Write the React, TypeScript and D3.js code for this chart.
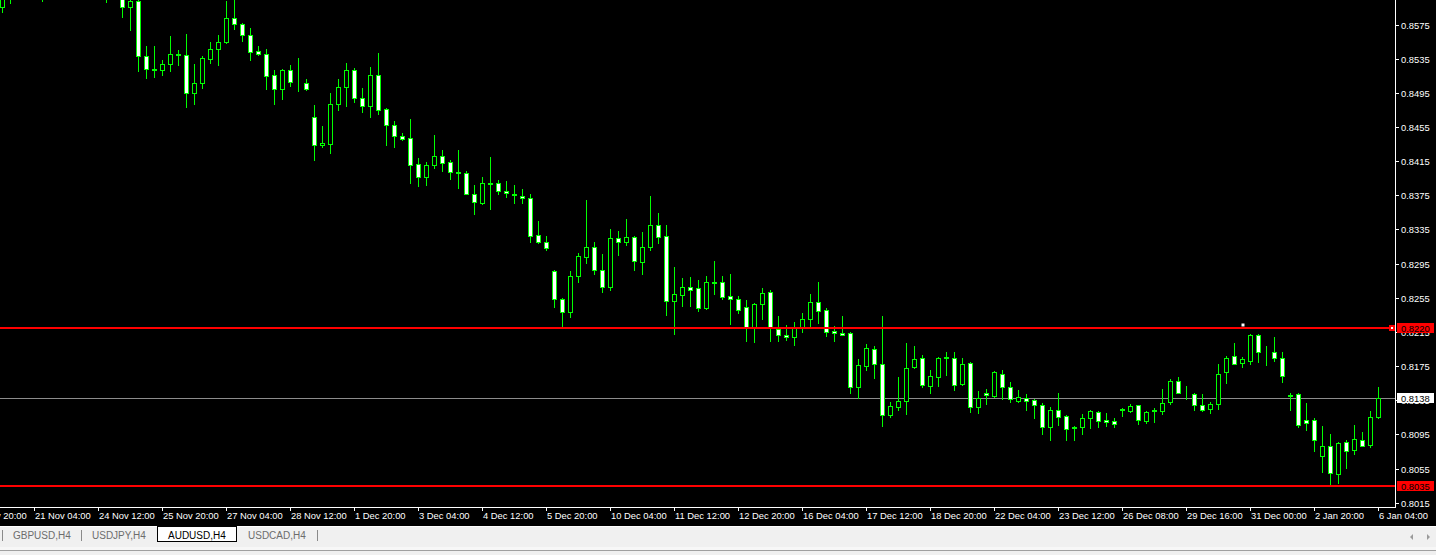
import React from 'react';
import * as d3 from 'd3';

// AUDUSD H4 candles (index 0 = leftmost visible bar)
const opens = [
  0.8596,0.8612,0.8620,0.8626,0.8634,0.8618,0.8610,0.8624,0.8634,0.8630,
  0.8616,0.8628,0.8618,0.8612,0.8608,0.8618,0.8596,0.8603,0.8538,0.8523,
  0.8522,0.8529,0.8540,0.8539,0.8495,0.8507,0.8535,0.8546,0.8554,0.8583,
  0.8576,0.8563,0.8544,0.8541,0.8516,0.8499,0.8522,0.8507,0.8506,0.8467,
  0.8434,0.8435,0.8482,0.8502,0.8522,0.8489,0.8480,0.8516,0.8476,0.8457,
  0.8444,0.8442,0.8412,0.8397,0.8410,0.8421,0.8414,0.8402,0.8401,0.8377,
  0.8366,0.8389,0.8389,0.8380,0.8377,0.8374,0.8372,0.8328,0.8320,0.8286,
  0.8254,0.8238,0.8280,0.8303,0.8315,0.8288,0.8268,0.8325,0.8320,0.8326,
  0.8297,0.8315,0.8340,0.8327,0.8251,0.8258,0.8268,0.8266,0.8243,0.8273,
  0.8273,0.8257,0.8254,0.8244,0.8220,0.8248,0.8262,0.8219,0.8212,0.8209,
  0.8221,0.8230,0.8250,0.8241,0.8216,0.8214,0.8214,0.8150,0.8175,0.8195,
  0.8178,0.8118,0.8127,0.8134,0.8174,0.8184,0.8152,0.8162,0.8186,0.8185,
  0.8154,0.8179,0.8127,0.8144,0.8140,0.8166,0.8151,0.8134,0.8138,0.8135,
  0.8129,0.8104,0.8124,0.8117,0.8104,0.8104,0.8114,0.8121,0.8112,0.8111,
  0.8125,0.8123,0.8129,0.8111,0.8124,0.8123,0.8133,0.8158,0.8144,0.8142,
  0.8129,0.8125,0.8131,0.8168,0.8187,0.8179,0.8181,0.8211,0.8192,0.8192,
  0.8184,0.8141,0.8142,0.8112,0.8112,0.8070,0.8082,0.8049,0.8086,0.8077,
  0.8089,0.8083,0.8115,
];
const highs = [
  0.8616,0.8630,0.8632,0.8640,0.8642,0.8624,0.8628,0.8640,0.8648,0.8636,
  0.8632,0.8638,0.8626,0.8620,0.8622,0.8624,0.8612,0.8606,0.8550,0.8550,
  0.8534,0.8562,0.8545,0.8564,0.8529,0.8538,0.8554,0.8563,0.8602,0.8606,
  0.8577,0.8571,0.8550,0.8546,0.8522,0.8523,0.8527,0.8536,0.8511,0.8481,
  0.8456,0.8495,0.8511,0.8530,0.8524,0.8501,0.8525,0.8542,0.8477,0.8462,
  0.8448,0.8464,0.8419,0.8414,0.8446,0.8428,0.8416,0.8428,0.8404,0.8387,
  0.8396,0.8420,0.8393,0.8392,0.8387,0.8382,0.8377,0.8345,0.8327,0.8288,
  0.8255,0.8286,0.8307,0.8370,0.8320,0.8306,0.8336,0.8333,0.8347,0.8327,
  0.8332,0.8374,0.8354,0.8340,0.8291,0.8278,0.8279,0.8276,0.8280,0.8298,
  0.8280,0.8283,0.8257,0.8252,0.8249,0.8266,0.8264,0.8234,0.8223,0.8227,
  0.8237,0.8260,0.8273,0.8243,0.8222,0.8234,0.8215,0.8183,0.8201,0.8198,
  0.8234,0.8133,0.8162,0.8202,0.8198,0.8188,0.8171,0.8186,0.8191,0.8191,
  0.8185,0.8180,0.8146,0.8148,0.8169,0.8171,0.8157,0.8147,0.8142,0.8136,
  0.8132,0.8127,0.8143,0.8118,0.8105,0.8119,0.8124,0.8122,0.8120,0.8114,
  0.8126,0.8131,0.8130,0.8123,0.8126,0.8148,0.8160,0.8162,0.8152,0.8143,
  0.8142,0.8133,0.8177,0.8187,0.8202,0.8186,0.8213,0.8213,0.8198,0.8209,
  0.8192,0.8144,0.8144,0.8132,0.8114,0.8105,0.8096,0.8086,0.8088,0.8106,
  0.8098,0.8123,0.8150,
];
const lows = [
  0.8590,0.8600,0.8608,0.8615,0.8612,0.8603,0.8607,0.8618,0.8625,0.8612,
  0.8610,0.8614,0.8608,0.8601,0.8606,0.8584,0.8568,0.8521,0.8512,0.8514,
  0.8516,0.8521,0.8527,0.8478,0.8482,0.8501,0.8530,0.8528,0.8553,0.8570,
  0.8556,0.8534,0.8539,0.8500,0.8482,0.8488,0.8503,0.8497,0.8498,0.8416,
  0.8431,0.8425,0.8475,0.8479,0.8484,0.8472,0.8467,0.8470,0.8434,0.8431,
  0.8440,0.8390,0.8386,0.8387,0.8407,0.8403,0.8394,0.8383,0.8376,0.8353,
  0.8365,0.8359,0.8376,0.8373,0.8366,0.8366,0.8320,0.8319,0.8311,0.8244,
  0.8222,0.8232,0.8273,0.8296,0.8283,0.8262,0.8264,0.8305,0.8317,0.8287,
  0.8283,0.8311,0.8319,0.8235,0.8213,0.8246,0.8246,0.8239,0.8242,0.8260,
  0.8254,0.8224,0.8237,0.8205,0.8203,0.8230,0.8204,0.8205,0.8206,0.8200,
  0.8215,0.8222,0.8226,0.8210,0.8205,0.8211,0.8144,0.8138,0.8170,0.8161,
  0.8105,0.8115,0.8124,0.8119,0.8173,0.8151,0.8144,0.8152,0.8165,0.8147,
  0.8153,0.8121,0.8120,0.8131,0.8139,0.8136,0.8133,0.8133,0.8124,0.8114,
  0.8096,0.8088,0.8106,0.8088,0.8088,0.8096,0.8102,0.8104,0.8105,0.8104,
  0.8117,0.8121,0.8107,0.8108,0.8110,0.8119,0.8131,0.8143,0.8137,0.8124,
  0.8123,0.8120,0.8125,0.8155,0.8177,0.8174,0.8178,0.8180,0.8176,0.8181,
  0.8157,0.8124,0.8104,0.8100,0.8076,0.8051,0.8035,0.8038,0.8056,0.8072,
  0.8081,0.8080,0.8114,
];
const closes = [
  0.8610,0.8620,0.8626,0.8634,0.8618,0.8610,0.8624,0.8634,0.8630,0.8616,
  0.8628,0.8618,0.8612,0.8608,0.8618,0.8596,0.8603,0.8538,0.8523,0.8522,
  0.8529,0.8540,0.8539,0.8495,0.8506,0.8536,0.8546,0.8554,0.8583,0.8576,
  0.8563,0.8543,0.8540,0.8515,0.8499,0.8522,0.8508,0.8506,0.8499,0.8434,
  0.8436,0.8482,0.8502,0.8522,0.8489,0.8480,0.8516,0.8475,0.8457,0.8444,
  0.8441,0.8411,0.8397,0.8410,0.8421,0.8413,0.8402,0.8401,0.8377,0.8367,
  0.8389,0.8388,0.8380,0.8378,0.8375,0.8372,0.8327,0.8320,0.8313,0.8254,
  0.8238,0.8280,0.8304,0.8315,0.8288,0.8268,0.8325,0.8320,0.8326,0.8298,
  0.8315,0.8340,0.8326,0.8251,0.8259,0.8268,0.8264,0.8243,0.8273,0.8272,
  0.8256,0.8254,0.8241,0.8220,0.8248,0.8261,0.8220,0.8212,0.8209,0.8221,
  0.8230,0.8250,0.8240,0.8215,0.8214,0.8212,0.8150,0.8176,0.8196,0.8178,
  0.8118,0.8128,0.8134,0.8173,0.8183,0.8153,0.8164,0.8184,0.8185,0.8153,
  0.8178,0.8127,0.8138,0.8141,0.8168,0.8151,0.8136,0.8139,0.8134,0.8130,
  0.8104,0.8124,0.8115,0.8101,0.8103,0.8114,0.8122,0.8111,0.8110,0.8107,
  0.8124,0.8128,0.8112,0.8121,0.8123,0.8132,0.8158,0.8144,0.8143,0.8130,
  0.8124,0.8131,0.8166,0.8185,0.8178,0.8183,0.8212,0.8192,0.8191,0.8185,
  0.8164,0.8140,0.8106,0.8108,0.8089,0.8081,0.8050,0.8085,0.8076,0.8090,
  0.8082,0.8115,0.8138,
];

const priceTicks = [0.8575,0.8535,0.8495,0.8455,0.8415,0.8375,0.8335,0.8295,0.8255,0.8215,0.8175,0.8135,0.8095,0.8055,0.8015];
const timeTickIndex = [-4,4,12,20,28,36,44,52,60,68,76,84,92,100,108,116,124,132,140,148,156,164,172];
const timeTickLabels = [
  '20 Nov 20:00','21 Nov 04:00','24 Nov 12:00','25 Nov 20:00','27 Nov 04:00','28 Nov 12:00',
  '1 Dec 20:00','3 Dec 04:00','4 Dec 12:00','5 Dec 20:00','10 Dec 04:00','11 Dec 12:00',
  '12 Dec 20:00','16 Dec 04:00','17 Dec 12:00','18 Dec 20:00','22 Dec 04:00','23 Dec 12:00',
  '26 Dec 08:00','29 Dec 16:00','31 Dec 00:00','2 Jan 20:00','6 Jan 04:00',
];
const levelLines = [0.8220, 0.8035];
const bidPrice = 0.8138;
const markerBar = 155;
const markerPrice = 0.8223;
const tabs = ['GBPUSD,H4','USDJPY,H4','AUDUSD,H4','USDCAD,H4'];
const activeTab = 'AUDUSD,H4';

const FONT = "Tahoma, 'Liberation Sans', Arial, sans-serif";
const GREEN = '#00ff00';

export default function App() {
  const W = 1436, H = 555;
  const axisX = 1395;
  const axisY = 507;
  const x = d3.scaleLinear().domain([0, 172]).range([2, 1378]);
  const y = d3.scaleLinear().domain([0.8015, 0.8575]).range([502.8, 24.5]);
  const ry = (p: number) => Math.round(y(p));

  const candles = opens.map((o, i) => {
    const cx = Math.round(x(i));
    const yo = ry(o), yc = ry(closes[i]);
    const yh = ry(highs[i]), yl = ry(lows[i]);
    const top = Math.min(yo, yc), bot = Math.max(yo, yc);
    const bear = closes[i] < o;
    return (
      <g key={i}>
        <line x1={cx + 0.5} x2={cx + 0.5} y1={yh} y2={yl + 1} stroke={GREEN} strokeWidth={1} />
        <rect x={cx - 1.5} y={top + 0.5} width={4} height={bot - top} fill={bear ? '#ffffff' : '#000000'} stroke={GREEN} strokeWidth={1} />
      </g>
    );
  });

  const tabX = [2, 81, 157, 237, 317];

  return (
    <div>
      <style>{`body{margin:0;overflow:hidden;background:#000}`}</style>
      <svg width={W} height={H} style={{ display: 'block' }} fontFamily={FONT}>
        <rect x={0} y={0} width={W} height={527} fill="#000" />
        <defs>
          <clipPath id="plot">
            <rect x={0} y={0} width={axisX} height={axisY} />
          </clipPath>
        </defs>
        <g clipPath="url(#plot)">
          <line x1={0} x2={axisX} y1={ry(bidPrice) + 0.5} y2={ry(bidPrice) + 0.5} stroke="#8c8c8c" strokeWidth={1} />
          {candles}
          {levelLines.map((p, i) => (
            <line key={i} x1={0} x2={axisX} y1={ry(p)} y2={ry(p)} stroke="#ff0000" strokeWidth={2} />
          ))}
          <rect x={Math.round(x(markerBar)) - 0.5} y={ry(markerPrice) - 1.5} width={3} height={3} fill="#ffffff" />
          <rect x={axisX - 6} y={ry(levelLines[0]) - 3} width={6} height={6} fill="#ff0000" />
          <rect x={axisX - 4} y={ry(levelLines[0]) - 1} width={2} height={2} fill="#ffffff" />
        </g>

        <line x1={axisX + 0.5} x2={axisX + 0.5} y1={0} y2={axisY + 1} stroke="#fff" strokeWidth={1} />
        <line x1={0} x2={axisX + 1} y1={axisY + 0.5} y2={axisY + 0.5} stroke="#fff" strokeWidth={1} />

        {priceTicks.map((p, i) => (
          <g key={i}>
            <line x1={axisX + 1} x2={axisX + 4} y1={ry(p) + 0.5} y2={ry(p) + 0.5} stroke="#fff" />
            <text x={axisX + 6} y={ry(p) + 4} fill="#fff" fontSize={9.4}>{p.toFixed(4)}</text>
          </g>
        ))}

        {levelLines.map((p, i) => (
          <g key={i}>
            <rect x={axisX + 2} y={ry(p) - 5} width={37} height={10} fill="#ff0000" />
            <text x={axisX + 6} y={ry(p) + 4} fill="#000" fontSize={9.4}>{p.toFixed(4)}</text>
          </g>
        ))}
        <rect x={axisX + 2} y={ry(bidPrice) - 5} width={37} height={10} fill="#ffffff" />
        <text x={axisX + 6} y={ry(bidPrice) + 4} fill="#000" fontSize={9.4}>{bidPrice.toFixed(4)}</text>

        {timeTickIndex.map((idx, i) => {
          const tx = Math.round(x(idx));
          return (
            <g key={i}>
              <line x1={tx + 0.5} x2={tx + 0.5} y1={axisY + 1} y2={axisY + 4} stroke="#fff" />
              <text x={tx + 1} y={519} fill="#fff" fontSize={9.4}>{timeTickLabels[i]}</text>
            </g>
          );
        })}

        <rect x={0} y={526} width={W} height={1} fill="#ffffff" />
        <rect x={0} y={527} width={W} height={20} fill="#f0f0f0" />
        <rect x={0} y={547} width={W} height={3} fill="#f7f7f7" />
        <rect x={0} y={550} width={W} height={1} fill="#a0a0a0" />
        <rect x={0} y={551} width={W} height={4} fill="#f0f0f0" />
        {tabs.map((t, i) => {
          const active = t === activeTab;
          const x0 = tabX[i], x1 = tabX[i + 1];
          return (
            <g key={t}>
              {active ? (
                <rect x={x0 + 0.5} y={526.5} width={x1 - x0 - 1} height={15} fill="#ffffff" stroke="#000" strokeWidth={1} />
              ) : null}
              <text x={x0 + 11} y={538.5} fill={active ? '#000' : '#6d6d6d'} fontSize={10}>{t}</text>
            </g>
          );
        })}
        {[2, 81, 317].map((sx, i) => (
          <line key={i} x1={sx + 0.5} x2={sx + 0.5} y1={530} y2={541} stroke="#8a8a8a" />
        ))}
        <path d="M1413,534 L1410,537 L1413,540 Z" fill="#9a9a9a" />
        <path d="M1427,534 L1430,537 L1427,540 Z" fill="#9a9a9a" />
      </svg>
    </div>
  );
}
